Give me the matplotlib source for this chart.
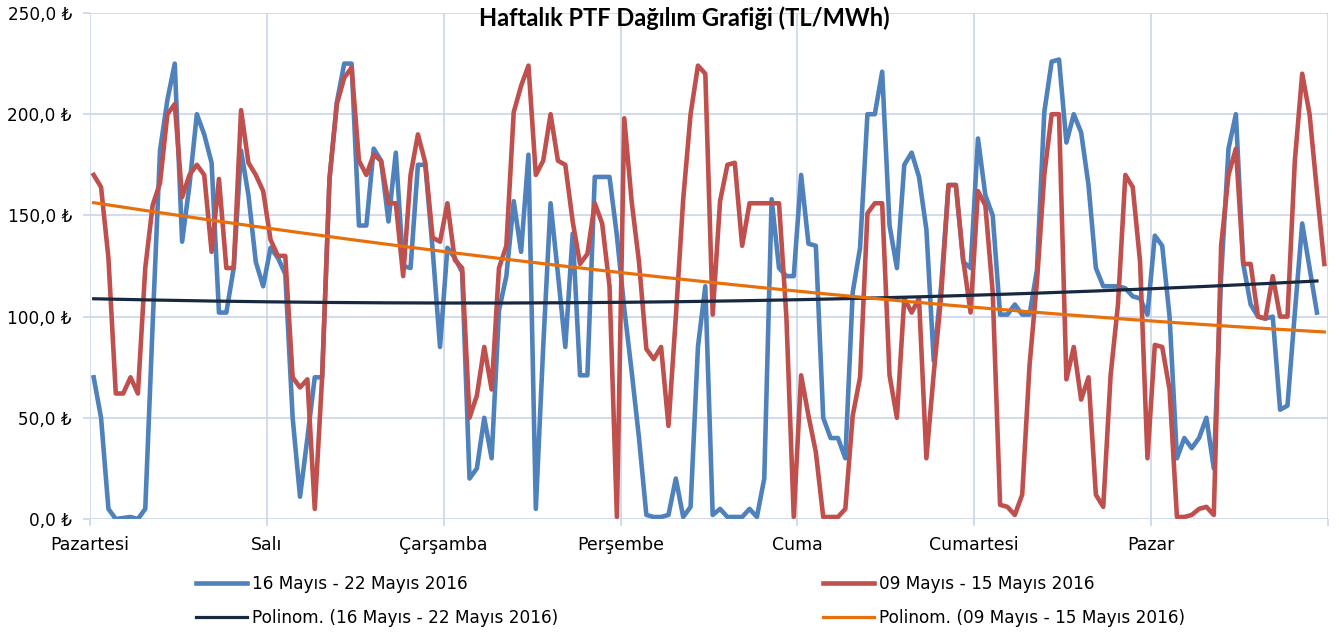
import matplotlib
matplotlib.use("Agg")
import matplotlib.pyplot as plt
import numpy as np

# hourly PTF values (TL/MWh), Monday 00:00 .. Sunday 23:00
days = ["Pazartesi", "Salı", "Çarşamba", "Perşembe", "Cuma", "Cumartesi", "Pazar"]

week_16_22 = [
    70, 50, 5, 0, 0.5, 1, 0, 5, 96, 182, 207, 225, 137, 165, 200, 190, 176, 102, 102, 124, 182, 160, 127, 115,
    134, 129, 121, 50, 11, 40, 70, 70, 168, 206, 225, 225, 145, 145, 183, 177, 147, 181, 125, 124, 175, 175, 133, 85,
    134, 129, 122, 20, 25, 50, 30, 103, 120, 157, 132, 180, 5, 85, 156, 121, 85, 141, 71, 71, 169, 169, 169, 140,
    104, 73, 40, 2, 1, 1, 2, 20, 1, 6, 85, 115, 2, 5, 1, 1, 1, 5, 1, 20, 158, 124, 120, 120,
    170, 136, 135, 50, 40, 40, 30, 112, 134, 200, 200, 221, 145, 124, 175, 181, 169, 143, 78, 115, 165, 165, 127, 124,
    188, 160, 150, 101, 101, 106, 101, 101, 123, 201, 226, 227, 186, 200, 191, 165, 124, 115, 115, 115, 114, 110, 109, 101,
    140, 135, 100, 30, 40, 35, 40, 50, 25, 120, 183, 200, 126, 106, 100, 99, 100, 54, 56, 102, 146, 124, 102,
]

week_09_15 = [
    170, 164, 129, 62, 62, 70, 62, 124, 155, 166, 200, 205, 159, 170, 175, 170, 132, 168, 124, 124, 202, 176, 170, 162,
    138, 130, 130, 70, 65, 69, 5, 70, 168, 205, 218, 223, 177, 170, 180, 177, 156, 156, 120, 170, 190, 176, 139, 137,
    156, 128, 124, 50, 61, 85, 64, 124, 135, 201, 214, 224, 170, 177, 200, 177, 175, 147, 126, 131, 156, 146, 115, 1,
    198, 157, 127, 84, 79, 85, 46, 100, 158, 200, 224, 220, 101, 157, 175, 176, 135, 156, 156, 156, 156, 156, 100, 1,
    71, 51, 33, 1, 1, 1, 5, 51, 70, 151, 156, 156, 71, 50, 109, 102, 109, 30, 72, 110, 165, 165, 128, 102,
    162, 155, 112, 7, 6, 2, 12, 76, 117, 170, 200, 200, 69, 85, 59, 70, 12, 6, 71, 106, 170, 164, 127, 30,
    86, 85, 64, 1, 1, 2, 5, 6, 2, 135, 170, 183, 126, 126, 100, 99, 120, 100, 100, 177, 220, 200, 162, 126,
]

lbl_a = "16 Mayıs - 22 Mayıs 2016"
lbl_b = "09 Mayıs - 15 Mayıs 2016"

blue = "#4F81BD"
red = "#C0504D"
navy = "#17283F"
orange = "#E8700C"
grid_c = "#C9D6E8"

xa = np.arange(len(week_16_22))
xb = np.arange(len(week_09_15))

# excel style polynomial (order 2) trendlines
pa = np.polyfit(xa + 1, week_16_22, 2)
pb = np.polyfit(xb + 1, week_09_15, 2)

plt.rcParams['font.family'] = ['DejaVu Sans']

fig = plt.figure(figsize=(13.39, 6.34), dpi=100)
ax = fig.add_axes([90 / 1339, 1 - 519 / 634, 1238 / 1339, 506 / 634])

l1, = ax.plot(xa, week_16_22, color=blue, lw=3.3, solid_joinstyle='round', zorder=3)
l2, = ax.plot(xb, week_09_15, color=red, lw=3.3, solid_joinstyle='round', zorder=4)
l3, = ax.plot(xa, np.polyval(pa, xa + 1), color=navy, lw=2.3, zorder=5)
l4, = ax.plot(xb, np.polyval(pb, xb + 1), color=orange, lw=2.3, zorder=6)

ax.set_xlim(-0.5, 167.5)
ax.set_ylim(0, 250)
ax.set_yticks(np.arange(0, 251, 50))
ax.set_yticklabels([f"{v:.1f}".replace(".", ",") + " ₺" for v in np.arange(0, 251, 50)], fontsize=12.2)
ax.set_xticks(np.arange(8) * 24 - 0.5)
ax.set_xticklabels(days + [""], fontsize=12.5)
ax.grid(True, color=grid_c, lw=1.2)
ax.set_axisbelow(True)
for s in ax.spines.values():
    s.set_visible(False)
ax.tick_params(axis='both', colors=grid_c, labelcolor='black', length=5, width=1.2)
ax.tick_params(axis='x', pad=7)
ax.tick_params(axis='y', pad=8)

fig.text(684 / 1339, 1 - 18 / 634, "Haftalık PTF Dağılım Grafiği (TL/MWh)", fontsize=17,
         fontweight='bold', family=['Lato', 'DejaVu Sans'], ha='center', va='center')

fig.legend([l1, l3, l2, l4],
           [lbl_a, "Polinom. (" + lbl_a + ")", lbl_b, "Polinom. (" + lbl_b + ")"],
           ncol=2, loc='center', bbox_to_anchor=(0.5157, 0.0515), frameon=False,
           fontsize=12.2, handlelength=3.0, handletextpad=0.3, columnspacing=15.6,
           labelspacing=0.95)

fig.savefig("out.png", dpi=100)
